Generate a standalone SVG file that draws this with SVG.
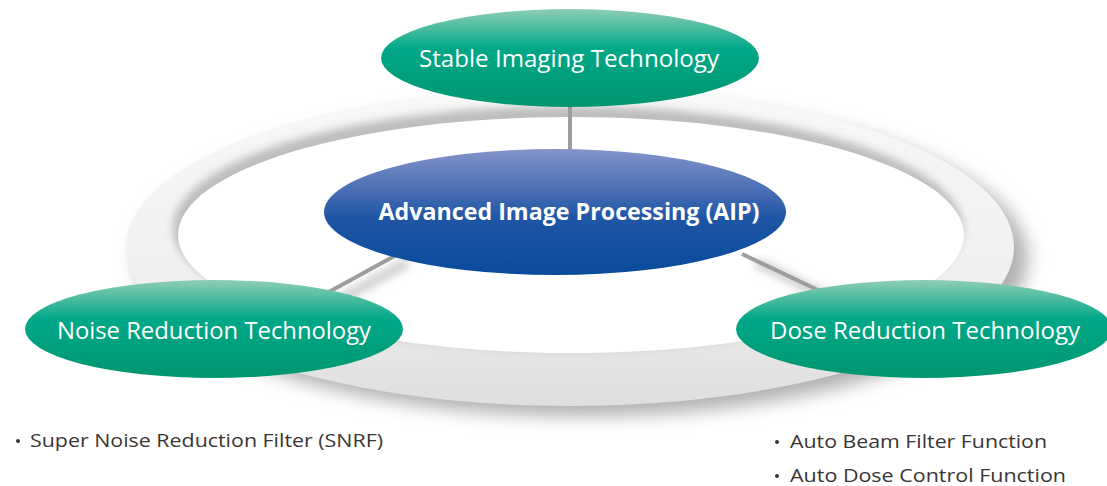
<svg xmlns="http://www.w3.org/2000/svg" width="1107" height="486" viewBox="0 0 1107 486">
  <defs>
    <linearGradient id="greenFill" x1="0" y1="0" x2="0" y2="1">
      <stop offset="0" stop-color="#8fcdb5"/>
      <stop offset="0.4" stop-color="#00a888"/>
      <stop offset="1" stop-color="#009670"/>
    </linearGradient>
    <linearGradient id="blueFill" x1="0" y1="0" x2="0" y2="1">
      <stop offset="0" stop-color="#8594c9"/>
      <stop offset="0.55" stop-color="#1f55a5"/>
      <stop offset="1" stop-color="#084a9b"/>
    </linearGradient>
    <linearGradient id="ringFill" x1="0" y1="0" x2="0" y2="1">
      <stop offset="0" stop-color="#f8f8f8"/>
      <stop offset="0.6" stop-color="#f0f0f0"/>
      <stop offset="1" stop-color="#dedede"/>
    </linearGradient>
    <filter id="soft" x="-20%" y="-20%" width="140%" height="140%">
      <feGaussianBlur stdDeviation="9"/>
    </filter>
    <filter id="softSmall" x="-20%" y="-20%" width="140%" height="140%">
      <feGaussianBlur stdDeviation="4"/>
    </filter>
    <style>
      .green { fill: url(#greenFill); }
      .blue { fill: url(#blueFill); }
      .label { font-family: "Open Sans", "Noto Sans", "Liberation Sans", sans-serif; fill: #ffffff; text-anchor: middle; }
      .bullet { font-family: "Open Sans", "Noto Sans", "Liberation Sans", sans-serif; fill: #3a3535; font-size: 19px; }
      .link { stroke: #9d9d9d; stroke-width: 4; fill: none; }
      .linkShadow { stroke: #cfcfcf; stroke-width: 10; fill: none; }
    </style>
  </defs>

  <rect width="1107" height="486" fill="#ffffff"/>

  <!-- Backdrop ring, lit from the upper left -->
  <g id="ring">
    <ellipse cx="582" cy="258" rx="446" ry="158" fill="#b0b0b0" filter="url(#soft)"/>
    <ellipse cx="570" cy="247" rx="444" ry="159" fill="url(#ringFill)"/>
    <ellipse cx="568" cy="228" rx="395" ry="122" fill="#bdbdbd" filter="url(#softSmall)"/>
    <ellipse cx="571" cy="235" rx="393" ry="118" fill="#ffffff"/>
  </g>

  <!-- Connectors -->
  <g id="connectors">
    <line class="linkShadow" x1="582" y1="108" x2="582" y2="152" filter="url(#softSmall)"/>
    <line class="linkShadow" x1="408" y1="262" x2="332" y2="304" filter="url(#softSmall)"/>
    <line class="linkShadow" x1="756" y1="262" x2="830" y2="298" filter="url(#softSmall)"/>
    <line class="link" x1="570" y1="104" x2="570" y2="154"/>
    <line class="link" x1="398" y1="254" x2="318" y2="298"/>
    <line class="link" x1="742" y1="254" x2="822" y2="292"/>
  </g>

  <g id="node-stable">
    <ellipse class="green" cx="570" cy="58" rx="189" ry="49"/>
    <text class="label" x="569" y="67" font-size="24" textLength="300" lengthAdjust="spacingAndGlyphs">Stable Imaging Technology</text>
  </g>

  <g id="node-aip">
    <ellipse class="blue" cx="555" cy="212" rx="231" ry="63"/>
    <text class="label" x="569" y="220" font-size="24" font-weight="bold" textLength="381" lengthAdjust="spacingAndGlyphs">Advanced Image Processing (AIP)</text>
  </g>

  <g id="node-noise">
    <ellipse class="green" cx="214" cy="329" rx="189" ry="49"/>
    <text class="label" x="214" y="339" font-size="24" textLength="314" lengthAdjust="spacingAndGlyphs">Noise Reduction Technology</text>
  </g>

  <g id="node-dose">
    <ellipse class="green" cx="924" cy="329" rx="188" ry="49"/>
    <text class="label" x="925" y="339" font-size="24" textLength="310" lengthAdjust="spacingAndGlyphs">Dose Reduction Technology</text>
  </g>

  <g id="notes-noise">
    <circle cx="18" cy="441" r="2" fill="#3a3535"/>
    <text class="bullet" x="30" y="447" textLength="353" lengthAdjust="spacingAndGlyphs">Super Noise Reduction Filter (SNRF)</text>
  </g>

  <g id="notes-dose">
    <circle cx="777" cy="442" r="2" fill="#3a3535"/>
    <text class="bullet" x="790" y="448" textLength="257" lengthAdjust="spacingAndGlyphs">Auto Beam Filter Function</text>
    <circle cx="777" cy="476" r="2" fill="#3a3535"/>
    <text class="bullet" x="790" y="482" textLength="276" lengthAdjust="spacingAndGlyphs">Auto Dose Control Function</text>
  </g>
</svg>
